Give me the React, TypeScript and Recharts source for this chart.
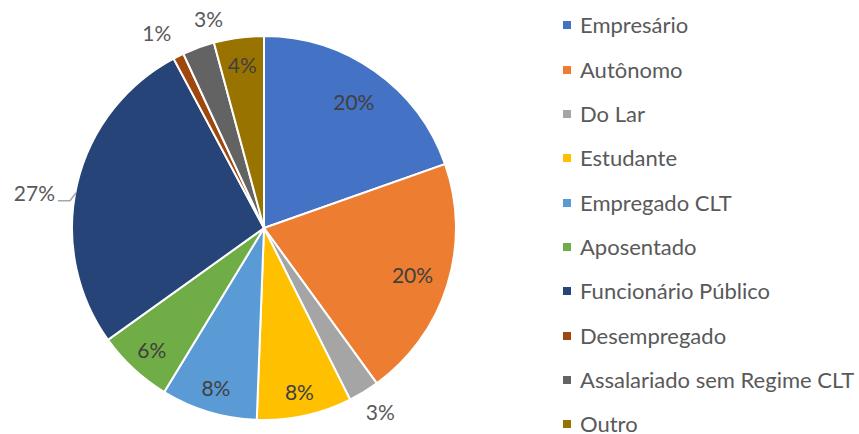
import React from 'react';
import { PieChart, Pie, Cell } from 'recharts';

const categories = [
  'Empresário',
  'Autônomo',
  'Do Lar',
  'Estudante',
  'Empregado CLT',
  'Aposentado',
  'Funcionário Público',
  'Desempregado',
  'Assalariado sem Regime CLT',
  'Outro',
];
const shares = [19.6, 20.4, 2.6, 8.0, 8.1, 6.4, 27.1, 0.9, 2.7, 4.2];
const colors = ['#4472C4', '#ED7D31', '#A5A5A5', '#FFC000', '#5B9BD5', '#70AD47', '#264478', '#9E480E', '#636363', '#997300'];

// label placement: 'in' = inside the slice, 'out' = outside, 'leader' = outside with a leader line
const labelMode = ['in', 'in', 'out', 'in', 'in', 'in', 'leader', 'out', 'out', 'in'];
// inside labels: fraction of the radius
const labelRadius = [0.81, 0.81, 0, 0.87, 0.87, 0.86, 0, 0, 0, 0.86];
// small nudges for outside labels so they don't collide
const labelNudge: [number, number][] = [[0, 0], [0, 0], [3, -3], [0, 0], [0, 0], [0, 0], [0, 0], [-10, 0], [19, -5], [0, 0]];

const data = categories.map((name, i) => ({ name, value: shares[i] }));

const FONT = 'Lato, "Open Sans", sans-serif';
const RAD = Math.PI / 180;

const renderLabel = (props: any) => {
  const { cx, cy, outerRadius, midAngle, percent, index } = props;
  const mode = labelMode[index];
  const txt = `${Math.round(percent * 100)}%`;
  const cos = Math.cos(-midAngle * RAD);
  const sin = Math.sin(-midAngle * RAD);
  const [nx, ny] = labelNudge[index];
  if (mode === 'in') {
    const r = outerRadius * labelRadius[index];
    return (
      <text x={cx + r * cos} y={cy + r * sin} fill="#404040" fontSize={21} fontFamily={FONT} textAnchor="middle" dominantBaseline="central">
        {txt}
      </text>
    );
  }
  if (mode === 'out') {
    const r = outerRadius + 26;
    return (
      <text x={cx + r * cos + nx} y={cy + r * sin + ny} fill="#595959" fontSize={21} fontFamily={FONT} textAnchor="middle" dominantBaseline="central">
        {txt}
      </text>
    );
  }
  const ex = cx + (outerRadius - 2) * cos;
  const ey = cy + (outerRadius - 2) * sin;
  return (
    <g>
      <path d={`M${ex - 3},${ey + 8} L${ex - 9},${ey + 16} L${ex - 21},${ey + 16}`} stroke="#A6A6A6" strokeWidth={1.5} fill="none" />
      <text x={ex - 24} y={ey + 8} fill="#595959" fontSize={21} fontFamily={FONT} textAnchor="end" dominantBaseline="central">
        {txt}
      </text>
    </g>
  );
};

export default function App() {
  return (
    <div style={{ position: 'absolute', left: 0, top: 0, width: 859, height: 434, background: '#fff', overflow: 'hidden' }}>
      <PieChart width={859} height={434} margin={{ top: 0, right: 0, bottom: 0, left: 0 }}>
        <Pie
          data={data}
          dataKey="value"
          nameKey="name"
          cx={264}
          cy={228}
          outerRadius={192}
          startAngle={90}
          endAngle={-270}
          stroke="#fff"
          strokeWidth={2}
          label={renderLabel}
          labelLine={false}
          isAnimationActive={false}
        >
          {data.map((d, i) => (
            <Cell key={d.name} fill={colors[i]} />
          ))}
        </Pie>
      </PieChart>
      <div style={{ position: 'absolute', left: 563, top: 3, fontFamily: FONT, fontSize: 22, color: '#595959' }}>
        {categories.map((c, i) => (
          <div key={c} style={{ display: 'flex', alignItems: 'center', height: 44.35 }}>
            <span style={{ display: 'inline-block', width: 8, height: 8, background: colors[i], marginRight: 9 }} />
            <span style={{ whiteSpace: 'nowrap', lineHeight: '18px' }}>{c}</span>
          </div>
        ))}
      </div>
    </div>
  );
}
